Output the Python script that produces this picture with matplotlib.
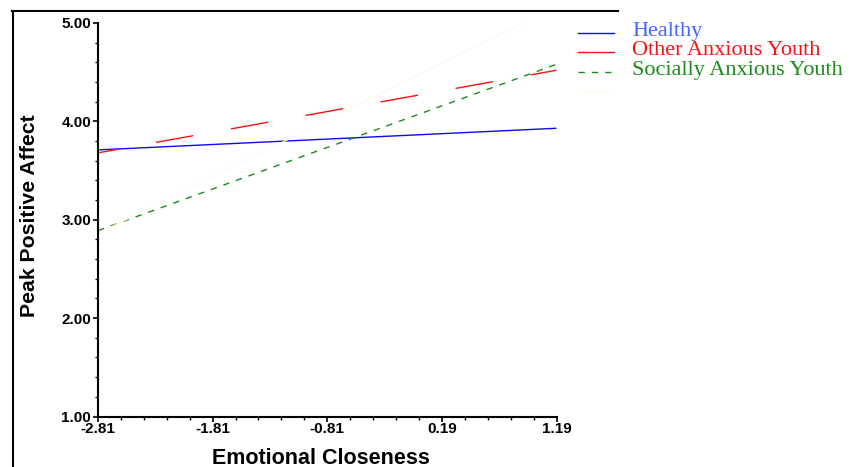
import numpy as np
import matplotlib
matplotlib.use("Agg")
import matplotlib.pyplot as plt
from matplotlib.lines import Line2D
from matplotlib.ticker import MultipleLocator, FixedLocator, FormatStrFormatter

plt.rcParams["font.family"] = ["Liberation Sans", "DejaVu Sans"]
plt.rcParams["lines.scale_dashes"] = False

# data
x_ends = [-2.81, 1.19]
healthy = [3.71, 3.93]
other_anx = [3.68, 4.52]
social_anx = [2.89, 4.58]
fourth = [2.86, 5.17]   # nearly invisible ivory line, no legend label

x_ticks = [-2.81, -1.81, -0.81, 0.19, 1.19]
y_ticks = [1.0, 2.0, 3.0, 4.0, 5.0]

labels = ["Healthy", "Other Anxious Youth", "Socially Anxious Youth", ""]
line_colors = ["#0a0aff", "#ff1010", "#1a8a1a", "#fffaee"]
text_colors = ["#4466ff", "#ff1010", "#1a8a1a", "#fffaee"]
dashes = [None, (12.4, (27.4, 27.4)), (0, (4.6, 5.0)), None]
legend_dashes = [None, None, (0, (4.6, 5.0)), None]

W, H = 858, 467
fig = plt.figure(figsize=(W / 100, H / 100), dpi=100)
ax = fig.add_axes([98 / W, (H - 416.5) / H, 458.5 / W, 393.5 / H])

series = [healthy, other_anx, social_anx, fourth]
for vals, c, d in zip(series, line_colors, dashes):
    if d is None:
        ax.plot(x_ends, vals, color=c, lw=1.0, solid_capstyle="butt")
    else:
        ax.plot(x_ends, vals, color=c, lw=1.0, linestyle=d)

ax.set_xlim(x_ends[0], x_ends[1])
ax.set_ylim(1.0, 5.0)
ax.xaxis.set_major_locator(FixedLocator(x_ticks))
ax.xaxis.set_minor_locator(FixedLocator(np.arange(-2.81, 1.20, 0.2)))
ax.yaxis.set_major_locator(FixedLocator(y_ticks))
ax.yaxis.set_minor_locator(MultipleLocator(0.2))
ax.xaxis.set_major_formatter(FormatStrFormatter("%.2f"))
ax.yaxis.set_major_formatter(FormatStrFormatter("%.2f"))

for s in ["top", "right"]:
    ax.spines[s].set_visible(False)
for s in ["left", "bottom"]:
    ax.spines[s].set_linewidth(1.5)
ax.tick_params(axis="both", which="major", direction="out", length=3.5, width=1.2,
               labelsize=11)
ax.tick_params(axis="both", which="minor", direction="out", length=2.2, width=1.0)
ax.tick_params(axis="y", which="major", pad=1.5)
ax.tick_params(axis="x", which="major", pad=0.5)
for t in ax.get_xticklabels() + ax.get_yticklabels():
    t.set_fontweight("bold")

ax.set_xlabel("Emotional Closeness", fontsize=15.5, fontweight="bold")
ax.set_ylabel("Peak Positive Affect", fontsize=15.3, fontweight="bold", labelpad=16)
ax.xaxis.set_label_coords(0.487, -0.079)
ax.yaxis.label.set_y(0.51)

# partial outer frame (top and left)
fig.add_artist(Line2D([12 / W, 618 / W], [1 - 11 / H, 1 - 11 / H], color="black", lw=1.5,
                      transform=fig.transFigure))
fig.add_artist(Line2D([13 / W, 13 / W], [1 - 11 / H, 0], color="black", lw=1.5,
                      transform=fig.transFigure))

# legend drawn by hand to get the tight spacing
rows_y = [33, 52, 71.5, 90.5]
for lab, lc, tc, d, yy in zip(labels, line_colors, text_colors, legend_dashes, rows_y):
    ls = "-" if d is None else d
    fig.add_artist(Line2D([578 / W, 614 / W], [1 - yy / H, 1 - yy / H], color=lc, lw=1.0,
                          linestyle=ls, transform=fig.transFigure))
    if lab:
        fig.text(632 / W, 1 - (yy - 1.5) / H, lab, color=tc, fontsize=16,
                 family=["Liberation Serif", "DejaVu Serif"], va="center", ha="left")

fig.savefig("out.png", dpi=100)
